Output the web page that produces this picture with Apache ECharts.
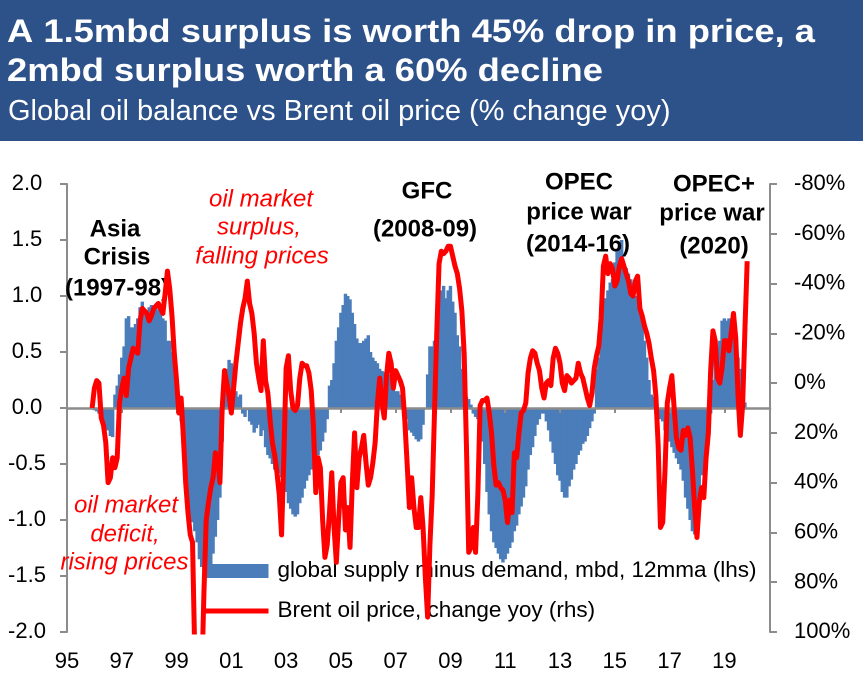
<!DOCTYPE html>
<html><head><meta charset="utf-8">
<script src="https://cdn.jsdelivr.net/npm/echarts@6/dist/echarts.min.js"></script>
<style>html,body{margin:0;padding:0;background:#fff;}#c{width:863px;height:683px;}</style>
</head><body><div id="c"></div>
<script>
// Monthly categories, Jan 1995 .. Sep 2020 (axis labels every 2 years)
const startYear = 1995;
const monthCount = 309;

// global supply minus demand, mbd, 12mma (lhs) - one value per month
const balance = [
  null,null,null,null,null,null,null,null,null,null,
  null,-0.01,-0.02,-0.03,-0.05,-0.1,-0.14,-0.18,-0.2,-0.25,
  -0.26,0.12,0.2,0.3,0.45,0.55,0.8,0.82,0.72,0.72,
  0.75,0.8,0.9,0.95,0.88,0.85,0.9,0.92,0.88,0.9,
  0.88,0.85,0.8,0.78,0.6,0.6,0.5,0.42,0.15,0.05,
  -0.12,-0.3,-0.6,-0.85,-0.98,-1.02,-1.1,-1.2,-1.35,-1.42,
  -1.45,-1.45,-1.45,-1.4,-1.3,-1.15,-1.0,-0.8,-0.3,0.2,
  0.35,0.43,0.4,0.35,0.15,0.1,0.12,-0.05,-0.08,-0.02,
  -0.12,-0.15,-0.22,-0.18,-0.15,-0.25,-0.2,-0.35,-0.42,-0.45,
  -0.5,-0.55,-0.6,-0.58,-0.62,-0.65,-0.75,-0.85,-0.9,-0.95,
  -0.97,-0.95,-0.85,-0.8,-0.72,-0.65,-0.6,-0.55,-0.5,-0.45,
  -0.42,-0.38,-0.3,-0.22,-0.1,0.2,0.25,0.4,0.6,0.72,
  0.85,0.92,1.02,1.0,0.97,0.85,0.75,0.62,0.58,0.58,
  0.6,0.62,0.65,0.5,0.45,0.42,0.4,0.35,0.33,0.32,
  0.32,0.3,0.28,0.2,0.15,0.15,0.12,0.05,-0.05,-0.1,
  -0.2,-0.22,-0.25,-0.28,-0.3,-0.28,-0.15,0.0,0.3,0.55,
  0.55,0.6,0.73,0.9,1.05,1.09,0.98,1.05,1.09,0.95,
  0.85,0.65,0.55,0.35,0.25,0.1,0.08,0.03,-0.05,-0.08,
  -0.1,-0.15,-0.3,-0.5,-0.75,-0.95,-1.1,-1.2,-1.25,-1.3,
  -1.35,-1.38,-1.35,-1.3,-1.25,-1.2,-1.1,-1.05,-0.95,-0.88,
  -0.8,-0.7,-0.55,-0.42,-0.35,-0.25,-0.15,-0.1,-0.05,-0.05,
  -0.12,-0.2,-0.3,-0.4,-0.5,-0.6,-0.65,-0.75,-0.8,-0.8,
  -0.7,-0.64,-0.55,-0.5,-0.42,-0.38,-0.32,-0.3,-0.25,-0.18,
  -0.12,-0.05,0.35,0.45,0.72,0.88,0.98,1.05,1.12,1.15,
  1.3,1.4,1.45,1.5,1.28,1.25,1.2,1.15,1.05,1.0,
  0.95,0.85,0.75,0.6,0.45,0.25,0.12,0.1,-0.05,-0.08,
  -0.1,-0.12,-0.2,-0.25,-0.3,-0.35,-0.4,-0.45,-0.5,-0.55,
  -0.65,-0.8,-0.9,-1.0,-1.1,-1.13,-1.12,-0.85,-0.6,-0.55,
  -0.4,-0.2,-0.05,0.25,0.45,0.55,0.6,0.78,0.8,0.78,
  0.8,0.75,0.65,0.55,0.45,0.35,0.15,0.05,null,null,
  null,null,null,null,null,null,null,null,null
];

// Brent oil price, change yoy, % (rhs, inverted)
const brentYoy = [
  null,null,null,null,null,null,null,null,null,null,
  null,10,2,-1,0,14,17,24,40,38,
  30,34,30,8,2,-2,5,-6,-10,-14,
  -13,-12,-25,-30,-29,-28,-25,-27,-30,-31,
  -32,-30,-28,-36,-45,-38,-27,-12,-1,12,
  6,22,40,52,61,64,110,140,150,120,
  84,55,48,42,38,28,30,40,10,-5,
  0,5,12,2,-8,-16,-24,-30,-34,-41,
  -32,-28,-20,-8,-2,3,-17,-1,4,15,
  24,29,36,45,61,30,-6,-11,3,10,
  11,9,-2,-8,-7,-7,-4,3,18,44,
  30,34,55,70,65,52,36,58,72,55,
  40,38,59,50,66,40,20,42,30,26,
  21,32,41,38,32,24,8,-2,8,14,
  -3,-12,-8,2,-5,-3,-1,2,15,32,
  50,38,50,58,58,46,58,78,94,65,
  45,12,-20,-48,-53,-52,-53,-55,-55,-51,
  -47,-44,-38,-29,-12,25,68,66,58,68,
  45,9,7,7,6,12,20,33,41,40,
  42,43,47,56,47,52,28,30,20,12,
  11,8,-4,-10,-13,-12,-8,-5,2,6,
  0,-1,1,-10,-14,-12,-8,0,3,-3,
  -2,0,-1,-2,-8,-4,-2,2,6,9,
  4,-6,-11,-15,-26,-47,-51,-44,-48,-46,
  -39,-41,-47,-50,-47,-44,-41,-36,-35,-41,
  -43,-30,-27,-23,-20,-16,-10,-5,5,25,
  58,56,35,8,2,-3,10,22,26,27,
  19,21,18,22,35,50,62,48,42,46,
  30,20,-5,-21,-17,-2,0,-6,-17,-17,
  -13,-20,-28,-18,5,21,9,-21,-49,null,
  null,null,null,null,null,null,null,null,null
];

const seriesNames = ['global supply minus demand, mbd, 12mma (lhs)', 'Brent oil price, change yoy (rhs)'];
const titleLines = ['A 1.5mbd surplus is worth 45% drop in price, a', '2mbd surplus worth a 60% decline'];
const subtitle = 'Global oil balance vs Brent oil price (% change yoy)';

const categories = [];
for (let k = 0; k < monthCount; k++) {
  const y = startYear + Math.floor(k / 12), m = k % 12 + 1;
  categories.push(y + '-' + (m < 10 ? '0' : '') + m);
}

const FONT = '"Liberation Sans", Arial, Helvetica, sans-serif';
const AX = '#8c8c8c';
const BLUE = '#4A7DBA';

function txt(t, x, y, opts) {
  return {
    type: 'text', x: x, y: y, z: opts.z || 4, silent: true, scaleX: opts.scaleX || 1,
    style: {
      text: t, fill: opts.fill || '#000',
      font: (opts.style || 'normal') + ' ' + (opts.weight || 'normal') + ' ' + opts.size + 'px ' + FONT,
      align: opts.align || 'center', verticalAlign: 'middle',
      textAlign: opts.align || 'center', textVerticalAlign: 'middle'
    }
  };
}

const B = {weight: 'bold', size: 24, fill: '#000'};
const R = {style: 'italic', size: 24, fill: '#ff0000'};

const chart = echarts.init(document.getElementById('c'), null, {renderer: 'canvas', devicePixelRatio: 2});
chart.setOption({
  animation: false,
  backgroundColor: '#ffffff',
  grid: {left: 67, right: 93, top: 184, bottom: 51, containLabel: false, outerBoundsMode: 'none'},
  xAxis: [
    {
      type: 'category', data: categories, boundaryGap: false, position: 'bottom',
      axisLine: {show: false, onZero: false}, axisTick: {show: false},
      axisLabel: {interval: 23, formatter: v => v.slice(2, 4), fontSize: 22, color: '#000', fontFamily: FONT, margin: 19},
      splitLine: {show: false}
    },
    {
      type: 'category', data: categories, boundaryGap: false, position: 'bottom', z: 3,
      axisLine: {show: true, onZero: true, onZeroAxisIndex: 0, lineStyle: {color: AX, width: 2.5}},
      axisTick: {show: true, interval: 23, length: 5, lineStyle: {color: AX, width: 2}},
      axisLabel: {show: false}, splitLine: {show: false}
    }
  ],
  yAxis: [
    {
      type: 'value', min: -2, max: 2, interval: 0.5, position: 'left',
      axisLine: {show: true, lineStyle: {color: AX, width: 2}},
      axisTick: {show: true, length: 7, lineStyle: {color: AX, width: 2}},
      axisLabel: {formatter: v => v.toFixed(1), fontSize: 22, color: '#000', fontFamily: FONT, align: 'center', margin: 40},
      splitLine: {show: false}
    },
    {
      type: 'value', min: -80, max: 100, interval: 20, inverse: true, position: 'right',
      axisLine: {show: true, lineStyle: {color: AX, width: 2}},
      axisTick: {show: true, length: 7, lineStyle: {color: AX, width: 2}},
      axisLabel: {formatter: '{value}%', fontSize: 22, color: '#000', fontFamily: FONT, margin: 24},
      splitLine: {show: false}
    }
  ],
  legend: {
    orient: 'vertical', left: 200, top: 558, itemWidth: 66, itemHeight: 14, itemGap: 14,
    padding: 0, selectedMode: false,
    textStyle: {fontSize: 22.5, color: '#000', fontFamily: FONT, lineHeight: 26, padding: [0, 0, 0, 4]},
    data: [
      {name: seriesNames[0], icon: 'rect', itemStyle: {color: BLUE, borderWidth: 0}},
      {name: seriesNames[1], lineStyle: {color: '#ff0000', width: 5},
       itemStyle: {color: 'rgba(0,0,0,0)', borderWidth: 0, opacity: 0}}
    ]
  },
  series: [
    {
      name: seriesNames[0], type: 'bar', data: balance, xAxisIndex: 0, yAxisIndex: 0,
      barCategoryGap: '-50%', itemStyle: {color: BLUE, borderWidth: 0}, z: 2, silent: true
    },
    {
      name: seriesNames[1], type: 'line', data: brentYoy, xAxisIndex: 0, yAxisIndex: 1,
      symbol: 'none', showSymbol: false, connectNulls: false, clip: true,
      lineStyle: {color: '#ff0000', width: 5, join: 'round'}, itemStyle: {color: '#ff0000'},
      z: 5, silent: true
    }
  ],
  graphic: [
    {type: 'rect', z: 0, silent: true, shape: {x: 0, y: 0, width: 863, height: 141}, style: {fill: '#2D5189'}},
    txt(titleLines[0], 7, 33, {weight: 'bold', size: 32, fill: '#fff', align: 'left', scaleX: 1.136}),
    txt(titleLines[1], 7, 72, {weight: 'bold', size: 32, fill: '#fff', align: 'left', scaleX: 1.136}),
    txt(subtitle, 8, 112, {size: 29, fill: '#fff', align: 'left'}),
    txt('Asia', 115, 230, B), txt('Crisis', 117, 258, B), txt('(1997-98)', 117, 289, B),
    txt('GFC', 427, 192, B), txt('(2008-09)', 425, 230, B),
    txt('OPEC', 579, 183, B), txt('price war', 579, 213, B), txt('(2014-16)', 578, 245, B),
    txt('OPEC+', 714, 185, B), txt('price war', 712, 214, B), txt('(2020)', 714, 247, B),
    txt('oil market', 261, 200, R), txt('surplus,', 259, 228, R), txt('falling prices', 262, 257, R),
    txt('oil market', 126, 506, R), txt('deficit,', 125, 535, R), txt('rising prices', 124.5, 563, R)
  ]
});
</script>
</body></html>
